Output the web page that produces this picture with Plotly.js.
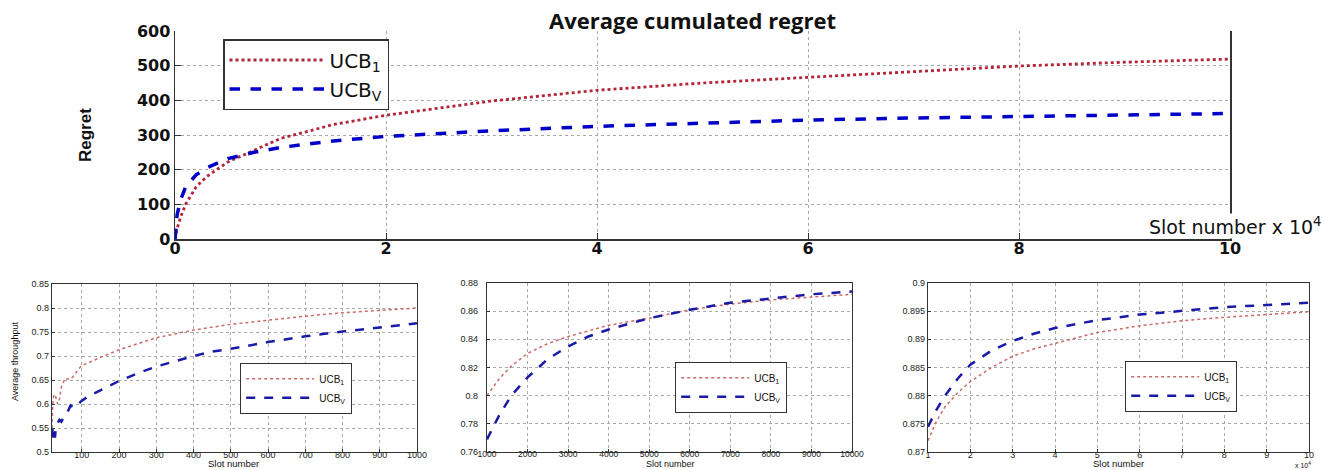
<!DOCTYPE html>
<html>
<head>
<meta charset="utf-8">
<script src="https://cdn.plot.ly/plotly-3.0.1.min.js"></script>
<style>html,body{margin:0;padding:0;background:#fff;}#chart{width:1323px;height:470px;}</style>
</head>
<body>
<div id="chart"></div>
<script>
// ---- Top panel: average cumulated regret (x in units of 10^4 slots) ----
const regretSlots = [0, 0.02, 0.05, 0.1, 0.2, 0.3, 0.5, 0.75, 1, 1.5, 2, 3, 4, 5, 6, 7, 8, 9, 10];
const regretUCB1 = [0, 30, 60, 100, 150, 180, 222, 255, 290, 330, 357, 398, 429, 450, 467, 484, 499, 510, 519];
const regretUCBV = [0, 70, 110, 150, 185, 205, 232, 250, 264, 283, 296, 312, 325, 335, 343, 349, 354, 358, 362];

// ---- Bottom-left: throughput, slots 20..1000 ----
const thrSlotsA1 = [20, 21, 22, 25, 30, 35, 40, 45, 55, 70, 80, 90, 100, 150, 200, 300, 400, 500, 600, 700, 800, 900, 1000];
const thrA_UCB1 = [0.55, 0.6, 0.6, 0.62, 0.615, 0.6, 0.61, 0.635, 0.653, 0.652, 0.66, 0.672, 0.68, 0.697, 0.713, 0.738, 0.754, 0.766, 0.775, 0.783, 0.79, 0.795, 0.80];
const thrSlotsAV = [20, 22, 24, 26, 28, 30, 35, 40, 45, 50, 60, 70, 80, 90, 100, 120, 150, 200, 250, 300, 350, 400, 450, 500, 600, 700, 800, 900, 1000];
const thrA_UCBV = [0.53, 0.555, 0.53, 0.545, 0.53, 0.55, 0.56, 0.567, 0.563, 0.57, 0.58, 0.597, 0.592, 0.6, 0.607, 0.617, 0.628, 0.648, 0.664, 0.678, 0.689, 0.70, 0.709, 0.715, 0.729, 0.741, 0.751, 0.76, 0.768];

// ---- Bottom-middle: throughput, slots 1000..10000 ----
const thrSlotsB = [1000, 1300, 1600, 2000, 2500, 3000, 3500, 4000, 5000, 6000, 7000, 8000, 9000, 10000];
const thrB_UCB1 = [0.80, 0.812, 0.821, 0.83, 0.837, 0.842, 0.846, 0.85, 0.855, 0.861, 0.865, 0.868, 0.870, 0.872];
const thrB_UCBV = [0.769, 0.786, 0.80, 0.813, 0.826, 0.835, 0.842, 0.847, 0.855, 0.861, 0.866, 0.869, 0.872, 0.874];

// ---- Bottom-right: throughput, slots 1..10 (x 10^4) ----
const thrSlotsC = [1, 1.2, 1.4, 1.7, 2, 2.5, 3, 3.5, 4, 5, 6, 7, 8, 9, 10];
const thrC_UCB1 = [0.872, 0.8755, 0.878, 0.8805, 0.8825, 0.885, 0.887, 0.8883, 0.8893, 0.8912, 0.8924, 0.8933, 0.8939, 0.8944, 0.8949];
const thrC_UCBV = [0.8745, 0.8775, 0.880, 0.883, 0.8855, 0.888, 0.8897, 0.891, 0.892, 0.8934, 0.8944, 0.8951, 0.8957, 0.8961, 0.8965];

const seriesNames = ['UCB<sub>1</sub>', 'UCB<sub>V</sub>'];

const RED_TOP = '#b3263a', BLUE_TOP = '#0000c8';
const RED_BOT = '#c86a6a', BLUE_BOT = '#1a1aa8';

const traces = [
  {x: regretSlots, y: regretUCB1, name: seriesNames[0], xaxis: 'x', yaxis: 'y', legend: 'legend', mode: 'lines', line: {color: RED_TOP, dash: 'dot', width: 2.8}},
  {x: regretSlots, y: regretUCBV, name: seriesNames[1], xaxis: 'x', yaxis: 'y', legend: 'legend', mode: 'lines', line: {color: BLUE_TOP, dash: 'dash', width: 3.5}},
  {x: thrSlotsA1, y: thrA_UCB1, name: seriesNames[0], xaxis: 'x2', yaxis: 'y2', legend: 'legend2', mode: 'lines', line: {color: RED_BOT, dash: 'dot', width: 1.5}},
  {x: thrSlotsAV, y: thrA_UCBV, name: seriesNames[1], xaxis: 'x2', yaxis: 'y2', legend: 'legend2', mode: 'lines', line: {color: BLUE_BOT, dash: 'dash', width: 2.5}},
  {x: thrSlotsB, y: thrB_UCB1, name: seriesNames[0], xaxis: 'x3', yaxis: 'y3', legend: 'legend3', mode: 'lines', line: {color: RED_BOT, dash: 'dot', width: 1.5}},
  {x: thrSlotsB, y: thrB_UCBV, name: seriesNames[1], xaxis: 'x3', yaxis: 'y3', legend: 'legend3', mode: 'lines', line: {color: BLUE_BOT, dash: 'dash', width: 2.5}},
  {x: thrSlotsC, y: thrC_UCB1, name: seriesNames[0], xaxis: 'x4', yaxis: 'y4', legend: 'legend4', mode: 'lines', line: {color: RED_BOT, dash: 'dot', width: 1.5}},
  {x: thrSlotsC, y: thrC_UCBV, name: seriesNames[1], xaxis: 'x4', yaxis: 'y4', legend: 'legend4', mode: 'lines', line: {color: BLUE_BOT, dash: 'dash', width: 2.5}}
];

const W = 1323, H = 470;
const px = v => v / W;
const py = v => 1 - v / H;

const gridCommon = {showgrid: true, gridcolor: '#a8a8a8', griddash: 'dot', gridwidth: 1, zeroline: false, showline: true, linecolor: '#333', linewidth: 1.2, ticks: 'inside', tickcolor: '#333'};
const topTickFont = {family: 'DejaVu Sans', size: 16, weight: 'bold', color: '#111'};
const botTickFont = {family: 'Liberation Sans', size: 9, color: '#222'};

const legendCommon = {xanchor: 'left', yanchor: 'top', bgcolor: '#fff', bordercolor: '#333', borderwidth: 1.2};

const layout = {
  width: W, height: H,
  margin: {l: 0, r: 0, t: 0, b: 0},
  paper_bgcolor: '#fff', plot_bgcolor: '#fff',
  showlegend: true,
  xaxis: Object.assign({}, gridCommon, {domain: [px(175), px(1230)], anchor: 'y', range: [0, 10], tickvals: [0, 2, 4, 6, 8, 10], ticklen: 6, tickfont: topTickFont, linewidth: 1.5, ticklabelstandoff: -6}),
  yaxis: Object.assign({}, gridCommon, {domain: [py(239), py(31)], anchor: 'x', range: [0, 600], dtick: 100, ticklen: 6, tickfont: topTickFont, mirror: true, linewidth: 1.5}),
  xaxis2: Object.assign({}, gridCommon, {domain: [px(52), px(417)], anchor: 'y2', range: [20, 1000], tickvals: [100, 200, 300, 400, 500, 600, 700, 800, 900, 1000], ticklen: 3, tickfont: botTickFont, mirror: true, ticklabelstandoff: -6}),
  yaxis2: Object.assign({}, gridCommon, {domain: [py(452), py(284)], anchor: 'x2', range: [0.5, 0.85], dtick: 0.05, ticklen: 3, tickfont: botTickFont, mirror: true}),
  xaxis3: Object.assign({}, gridCommon, {domain: [px(487), px(852)], anchor: 'y3', range: [1000, 10000], dtick: 1000, tickformat: 'd', ticklen: 3, tickfont: Object.assign({}, botTickFont, {size: 8.5}), mirror: true, ticklabelstandoff: -6}),
  yaxis3: Object.assign({}, gridCommon, {domain: [py(452), py(283)], anchor: 'x3', range: [0.76, 0.88], dtick: 0.02, ticklen: 3, tickfont: botTickFont, mirror: true, ticklabelstandoff: 6}),
  xaxis4: Object.assign({}, gridCommon, {domain: [px(928), px(1309)], anchor: 'y4', range: [1, 10], dtick: 1, ticklen: 3, tickfont: botTickFont, mirror: true, ticklabelstandoff: -6}),
  yaxis4: Object.assign({}, gridCommon, {domain: [py(452), py(283)], anchor: 'x4', range: [0.87, 0.9], dtick: 0.005, tickformat: '.3~f', ticklen: 3, tickfont: botTickFont, mirror: true}),
  legend: Object.assign({}, legendCommon, {x: px(223), y: py(39), font: {family: 'DejaVu Sans', size: 20, color: '#111'}, borderwidth: 1.5, itemwidth: 95, tracegroupgap: 0}),
  legend2: Object.assign({}, legendCommon, {x: px(240), y: py(363), font: {family: 'Liberation Sans', size: 10, color: '#111'}, itemwidth: 68}),
  legend3: Object.assign({}, legendCommon, {x: px(675), y: py(362), font: {family: 'Liberation Sans', size: 10, color: '#111'}, itemwidth: 68}),
  legend4: Object.assign({}, legendCommon, {x: px(1125), y: py(361), font: {family: 'Liberation Sans', size: 10, color: '#111'}, itemwidth: 68}),
  annotations: [
    {text: '<b>Average cumulated regret</b>', xref: 'paper', yref: 'paper', x: px(692), y: py(20), xanchor: 'center', yanchor: 'middle', showarrow: false, font: {family: 'Open Sans', size: 22, color: '#111'}},
    {text: '<b>Regret</b>', xref: 'paper', yref: 'paper', x: px(85), y: py(135), xanchor: 'center', yanchor: 'middle', textangle: -90, showarrow: false, font: {family: 'Liberation Sans Narrow, Liberation Sans', size: 17, color: '#111'}},
    {text: 'Slot number x 10<sup>4</sup>', xref: 'paper', yref: 'paper', x: 1, y: py(226), xanchor: 'right', yanchor: 'middle', showarrow: false, bgcolor: '#fff', borderpad: 0, font: {family: 'DejaVu Sans', size: 19, color: '#111'}},
    {text: 'Average throughput', xref: 'paper', yref: 'paper', x: px(15), y: py(362), xanchor: 'center', yanchor: 'middle', textangle: -90, showarrow: false, font: {family: 'Liberation Sans Narrow, Liberation Sans', size: 9, color: '#111'}},
    {text: 'Slot number', xref: 'paper', yref: 'paper', x: px(233), y: 0, xanchor: 'center', yanchor: 'bottom', showarrow: false, borderpad: 0, font: {family: 'Liberation Sans', size: 9.5, color: '#111'}},
    {text: 'Slot number', xref: 'paper', yref: 'paper', x: px(670), y: 0, xanchor: 'center', yanchor: 'bottom', showarrow: false, borderpad: 0, font: {family: 'Liberation Sans', size: 9, color: '#111'}},
    {text: 'Slot number', xref: 'paper', yref: 'paper', x: px(1118), y: 0, xanchor: 'center', yanchor: 'bottom', showarrow: false, borderpad: 0, font: {family: 'Liberation Sans', size: 9.5, color: '#111'}},
    {text: 'x 10<sup>4</sup>', xref: 'paper', yref: 'paper', x: px(1312), y: 0, xanchor: 'right', yanchor: 'bottom', showarrow: false, borderpad: 0, font: {family: 'Liberation Sans', size: 7, color: '#111'}}
  ]
};

Plotly.newPlot('chart', traces, layout, {displayModeBar: false, staticPlot: true});
</script>
</body>
</html>
